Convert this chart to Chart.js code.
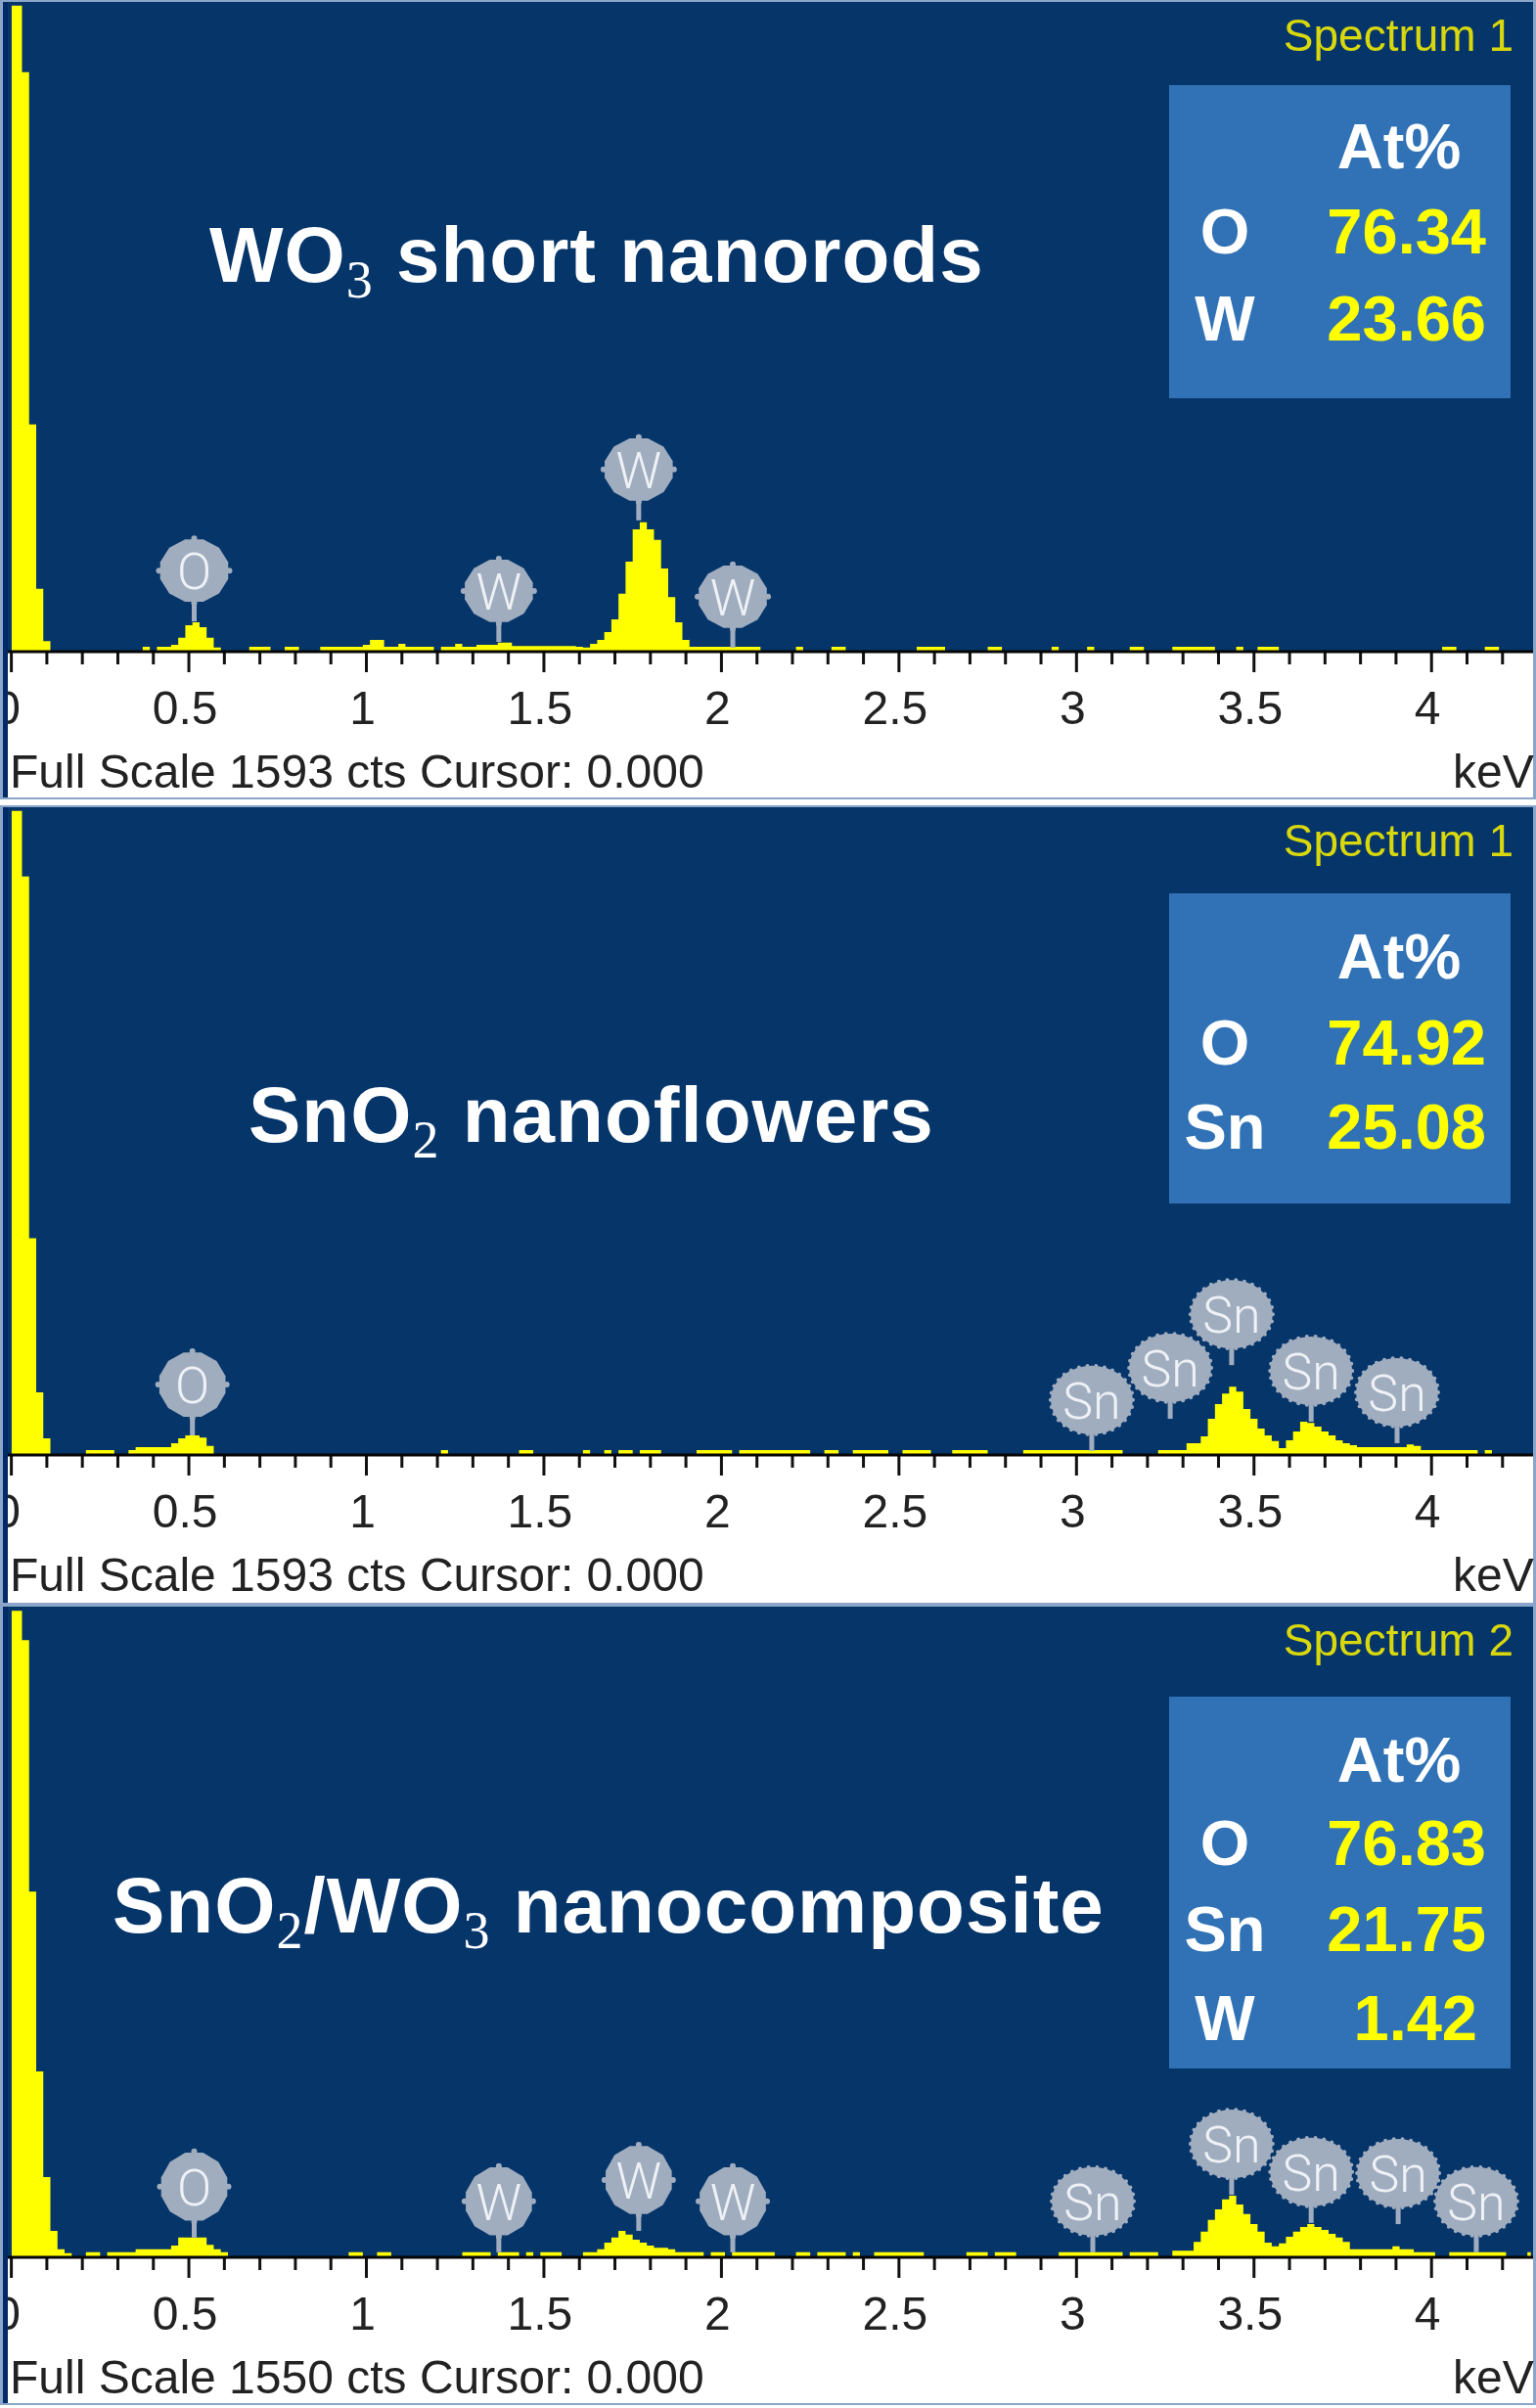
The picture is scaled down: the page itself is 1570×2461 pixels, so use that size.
<!DOCTYPE html>
<html>
<head>
<meta charset="utf-8">
<title>EDS spectra</title>
<script src="https://cdn.jsdelivr.net/npm/chart.js@4"></script>
<style>
    html, body { margin: 0; padding: 0; background: #ffffff; }
    #page { position: relative; width: 1570px; height: 2461px; overflow: hidden; }
    canvas { position: absolute; left: 0; }
</style>
</head>
<body>
<div id="page">
    <canvas id="wo3Chart" width="1570" height="818" style="top:0px"></canvas>
    <canvas id="sno2Chart" width="1570" height="818" style="top:822px"></canvas>
    <canvas id="compositeChart" width="1570" height="818" style="top:1640px"></canvas>
</div>

<script>
// channel energies in keV
const channelKev = [
    0,0.02,0.04,0.06,0.08,0.1,0.12,0.14,0.16,0.18,
    0.2,0.22,0.24,0.26,0.28,0.3,0.32,0.34,0.36,0.38,
    0.4,0.42,0.44,0.46,0.48,0.5,0.52,0.54,0.56,0.58,
    0.6,0.62,0.64,0.66,0.68,0.7,0.72,0.74,0.76,0.78,
    0.8,0.82,0.84,0.86,0.88,0.9,0.92,0.94,0.96,0.98,
    1,1.02,1.04,1.06,1.08,1.1,1.12,1.14,1.16,1.18,
    1.2,1.22,1.24,1.26,1.28,1.3,1.32,1.34,1.36,1.38,
    1.4,1.42,1.44,1.46,1.48,1.5,1.52,1.54,1.56,1.58,
    1.6,1.62,1.64,1.66,1.68,1.7,1.72,1.74,1.76,1.78,
    1.8,1.82,1.84,1.86,1.88,1.9,1.92,1.94,1.96,1.98,
    2,2.02,2.04,2.06,2.08,2.1,2.12,2.14,2.16,2.18,
    2.2,2.22,2.24,2.26,2.28,2.3,2.32,2.34,2.36,2.38,
    2.4,2.42,2.44,2.46,2.48,2.5,2.52,2.54,2.56,2.58,
    2.6,2.62,2.64,2.66,2.68,2.7,2.72,2.74,2.76,2.78,
    2.8,2.82,2.84,2.86,2.88,2.9,2.92,2.94,2.96,2.98,
    3,3.02,3.04,3.06,3.08,3.1,3.12,3.14,3.16,3.18,
    3.2,3.22,3.24,3.26,3.28,3.3,3.32,3.34,3.36,3.38,
    3.4,3.42,3.44,3.46,3.48,3.5,3.52,3.54,3.56,3.58,
    3.6,3.62,3.64,3.66,3.68,3.7,3.72,3.74,3.76,3.78,
    3.8,3.82,3.84,3.86,3.88,3.9,3.92,3.94,3.96,3.98,
    4,4.02,4.04,4.06,4.08,4.1,4.12,4.14,4.16,4.18,
    4.2,4.22,4.24,4.26,4.28
];

const majorTicks = [0, 0.5, 1, 1.5, 2, 2.5, 3, 3.5, 4];

// WO3 short nanorods
const wo3Counts = [
    1584,1584,1421,557,154,26,0,0,0,0,
    0,0,0,0,0,0,0,0,0,12,
    0,12,12,17,34,65,72,60,34,10,
    0,0,0,0,12,12,12,0,0,12,
    12,0,0,0,12,12,12,12,12,12,
    17,29,29,12,12,19,12,12,12,12,
    0,12,12,19,12,12,17,17,17,22,
    22,14,14,14,14,14,14,14,14,14,
    12,10,19,29,48,79,142,221,300,317,
    300,274,204,134,72,29,12,12,12,12,
    12,12,12,12,12,12,0,0,0,0,
    0,12,0,0,0,0,12,12,0,0,
    0,0,0,0,0,0,0,0,12,12,
    12,12,0,0,0,0,0,0,12,12,
    0,0,0,0,0,0,0,12,0,0,
    0,0,12,0,0,0,0,0,12,12,
    0,0,0,0,12,12,12,12,12,12,
    0,0,0,12,0,0,12,12,12,0,
    0,0,0,0,0,0,0,0,0,0,
    0,0,0,0,0,0,0,0,0,0,
    0,0,12,12,0,0,0,0,12,12,
    0,0,0,0,0
];
const wo3PeakLabels = ['O', 'W', 'W', 'W'];
const wo3PeakKev = [0.515, 1.373, 1.767, 2.032];
const wo3PeakCts = [74, 24, 322, 10];
const wo3Elements = ['O', 'W'];
const wo3Percent = ['76.34', '23.66'];

// SnO2 nanoflowers
const sno2Counts = [
    1584,1584,1423,533,154,41,0,0,0,0,
    0,12,12,12,12,0,0,12,19,19,
    19,19,19,29,41,48,48,43,22,0,
    0,0,0,0,0,0,0,0,0,0,
    0,0,0,0,0,0,0,0,0,0,
    0,0,0,0,0,0,0,0,0,0,
    0,12,0,0,0,0,0,0,0,0,
    0,0,12,12,0,0,0,0,0,0,
    0,12,0,0,12,0,12,12,0,12,
    12,12,0,0,0,0,0,12,12,12,
    12,12,0,12,12,12,12,12,12,12,
    12,12,12,0,0,12,12,0,0,12,
    12,12,12,12,0,0,12,12,12,12,
    0,0,0,12,12,12,12,12,0,0,
    0,0,0,12,12,12,12,12,12,12,
    12,12,12,12,12,12,12,0,0,0,
    0,0,12,12,12,12,29,29,46,89,
    125,151,168,156,113,89,65,48,34,17,
    36,58,82,79,70,58,48,36,29,24,
    19,19,19,19,19,19,19,26,22,12,
    12,12,12,12,12,12,12,0,12,0,
    0,0,0,0,0
];
const sno2PeakLabels = ['O', 'Sn', 'Sn', 'Sn', 'Sn', 'Sn'];
const sno2PeakKev = [0.51, 3.043, 3.264, 3.437, 3.661, 3.903];
const sno2PeakCts = [48, 10, 89, 221, 82, 29];
const sno2Elements = ['O', 'Sn'];
const sno2Percent = ['74.92', '25.08'];

// SnO2/WO3 nanocomposite
const compositeCounts = [
    1540,1540,1470,871,443,191,63,19,10,0,
    0,12,12,0,12,12,12,12,19,19,
    19,19,19,28,47,47,47,47,30,19,
    12,0,0,0,0,0,0,0,0,0,
    0,0,0,0,0,0,0,0,12,12,
    0,0,12,12,0,0,0,0,0,0,
    0,0,0,0,12,12,12,12,0,12,
    12,12,0,12,0,12,12,12,0,0,
    0,12,12,19,35,47,63,54,42,35,
    28,23,23,19,12,12,12,12,0,12,
    12,0,12,12,12,12,12,12,0,0,
    0,12,12,0,12,12,12,12,0,12,
    0,0,12,12,12,12,12,12,12,0,
    0,0,0,0,0,12,12,12,0,12,
    12,12,0,0,0,0,0,0,12,12,
    12,12,12,12,12,12,12,0,12,12,
    12,12,0,0,16,16,16,37,61,89,
    114,138,147,126,103,79,61,35,26,33,
    49,61,72,79,72,65,56,47,37,19,
    19,19,19,19,19,26,19,19,12,12,
    12,0,0,12,12,12,12,12,12,12,
    12,0,0,0,12
];
const compositePeakLabels = ['O', 'W', 'W', 'W', 'Sn', 'Sn', 'Sn', 'Sn', 'Sn'];
const compositePeakKev = [0.515, 1.373, 1.767, 2.032, 3.046, 3.437, 3.661, 3.906, 4.126];
const compositePeakCts = [47, 12, 63, 12, 12, 149, 82, 79, 12];
const compositeElements = ['O', 'Sn', 'W'];
const compositePercent = ['76.83', '21.75', '1.42'];

const NAVY = '#06356a';
const STRIP = '#012a66';
const EDGE = '#8ba6c9';
const BUBBLE = '#a0adbf';

// draws title pieces, every second piece is a subscript
function drawTitle(ctx, pieces, x, y) {
    ctx.textAlign = 'left';
    ctx.fillStyle = '#ffffff';
    ctx.letterSpacing = '1px';
    pieces.forEach((text, i) => {
        if (i % 2 === 1) {
            ctx.font = '54px "Liberation Serif"';
            ctx.fillText(text, x, y + 16);
        } else {
            ctx.font = 'bold 80px "Liberation Sans"';
            ctx.fillText(text, x, y);
        }
        x += ctx.measureText(text).width;
    });
    ctx.letterSpacing = '0px';
}

function drawBubble(ctx, x, y, label, rx, ry) {
    const stemBottom = y;
    const cy = y - 52;
    ctx.fillStyle = BUBBLE;
    ctx.fillRect(x - 2.5, cy, 5, stemBottom - cy);
    ctx.beginPath();
    if (label === 'Sn') {
        // round marker with a bumpy edge
        ctx.ellipse(x, cy, 42, 35, 0, 0, Math.PI * 2);
        ctx.fill();
        for (let a = 0; a < 360; a += 12) {
            const r = a * Math.PI / 180;
            ctx.beginPath();
            ctx.arc(x + 42 * Math.cos(r), cy + 35 * Math.sin(r), 2, 0, Math.PI * 2);
            ctx.fill();
        }
    } else {
        // 12 sided marker with small knobs
        for (let a = 15; a < 360; a += 30) {
            const r = a * Math.PI / 180;
            ctx.lineTo(x + rx * Math.cos(r), cy + ry * Math.sin(r));
        }
        ctx.closePath();
        ctx.fill();
        [0, 90, 180, 270].forEach(a => {
            const r = a * Math.PI / 180;
            ctx.beginPath();
            ctx.arc(x + rx * Math.cos(r), cy + ry * Math.sin(r), 3, 0, Math.PI * 2);
            ctx.fill();
        });
    }
    ctx.fillStyle = '#eef1f5';
    ctx.textAlign = 'center';
    ctx.font = '300 52px Roboto';
    ctx.fillText(label, x, cy + 19);
}

function makeChart(id, cfg) {
    const canvas = document.getElementById(id);
    const peakRadius = cfg.peakRadius;

    const panelPlugin = {
        id: 'panel',
        beforeDraw(chart) {
            const ctx = chart.ctx;
            const area = chart.chartArea;
            ctx.save();
            ctx.fillStyle = NAVY;
            ctx.fillRect(2, cfg.plotTop, 1566, area.bottom - cfg.plotTop);
            ctx.restore();
        },
        afterDraw(chart) {
            const ctx = chart.ctx;
            const xs = chart.scales.x;
            const ys = chart.scales.y;
            const area = chart.chartArea;
            ctx.save();

            // tick marks
            ctx.fillStyle = '#111111';
            xs.ticks.forEach(t => {
                const v = Number(t.value.toFixed(1));
                const len = majorTicks.includes(v) ? 21 : 13;
                ctx.fillRect(xs.getPixelForValue(v) - 1.5, area.bottom, 3, len);
            });
            // axis line
            ctx.fillStyle = '#050505';
            ctx.fillRect(8, area.bottom - 1.5, 1560, 3);

            // left and right frame
            ctx.fillStyle = STRIP;
            ctx.fillRect(3, cfg.plotTop, 5, cfg.bottom - cfg.plotTop);
            ctx.fillStyle = EDGE;
            ctx.fillRect(0, cfg.plotTop, 3, cfg.bottom - cfg.plotTop + 2);
            ctx.fillRect(1567, cfg.plotTop, 3, cfg.bottom - cfg.plotTop + 2);
            ctx.fillRect(0, cfg.bottom, 1570, 2);
            ctx.fillRect(0, cfg.plotTop - 2, 1570, 2);

            // peak markers
            cfg.peakKev.forEach((kev, i) => {
                drawBubble(ctx, xs.getPixelForValue(kev), ys.getPixelForValue(cfg.peakCts[i]),
                    cfg.peakLabels[i], peakRadius[0], peakRadius[1]);
            });

            // spectrum name
            ctx.textAlign = 'right';
            ctx.fillStyle = '#d8d80c';
            ctx.font = '46px "Liberation Sans"';
            ctx.fillText(cfg.spectrum, 1547, cfg.plotTop + 50);

            // At% box
            ctx.fillStyle = '#3072b5';
            ctx.fillRect(1195, cfg.boxTop, 349, cfg.boxBottom - cfg.boxTop);
            ctx.font = 'bold 65px "Liberation Sans"';
            ctx.textAlign = 'center';
            ctx.fillStyle = '#ffffff';
            ctx.fillText('At%', 1430, cfg.atY);
            cfg.elements.forEach((el, i) => {
                const y = cfg.rowY[i];
                ctx.textAlign = 'center';
                ctx.fillStyle = '#ffffff';
                ctx.fillText(el, 1252, y);
                ctx.textAlign = 'right';
                ctx.fillStyle = '#ffff00';
                ctx.fillText(cfg.percent[i], el === 'W' && cfg.percent[i] === '1.42' ? 1510 : 1519, y);
            });

            drawTitle(ctx, cfg.title, cfg.titleX, cfg.titleY);

            // footer
            ctx.fillStyle = '#222222';
            ctx.textAlign = 'left';
            ctx.font = '48px "Liberation Sans"';
            ctx.fillText(cfg.footer, 10, area.bottom + 139);
            ctx.fillText('keV', 1485, area.bottom + 139);
            ctx.restore();
        }
    };

    return new Chart(canvas, {
        type: 'line',
        data: {
            datasets: [{
                label: cfg.title.join(''),
                data: channelKev.map((kev, i) => ({ x: kev, y: cfg.counts[i] })),
                stepped: 'middle',
                fill: 'origin',
                backgroundColor: '#ffff00',
                borderWidth: 0,
                pointRadius: 0
            }]
        },
        options: {
            responsive: false,
            animation: false,
            events: [],
            layout: {
                autoPadding: false,
                padding: { left: 11.6, right: 3, top: cfg.plotTop, bottom: 0 }
            },
            plugins: { legend: { display: false }, tooltip: { enabled: false } },
            scales: {
                x: {
                    type: 'linear',
                    min: 0,
                    max: 4.286,
                    grid: { display: false, drawTicks: false },
                    border: { display: false },
                    afterFit(scale) {
                        scale.height = canvas.height - cfg.base;
                        // keep the half width of the first label out of the plot margin
                        scale.paddingLeft = 0;
                        scale.paddingRight = 0;
                    },
                    ticks: {
                        stepSize: 0.1,
                        includeBounds: false,
                        autoSkip: false,
                        maxRotation: 0,
                        labelOffset: -4,
                        padding: 32,
                        color: '#222222',
                        font: { family: '"Liberation Sans"', size: 48 },
                        callback(value) {
                            const v = Number(Number(value).toFixed(1));
                            return majorTicks.includes(v) ? String(v) : '';
                        }
                    }
                },
                y: { display: false, min: 0, max: cfg.fullScale }
            }
        },
        plugins: [panelPlugin]
    });
}

makeChart('wo3Chart', {
    counts: wo3Counts, peakLabels: wo3PeakLabels, peakKev: wo3PeakKev, peakCts: wo3PeakCts,
    elements: wo3Elements, percent: wo3Percent,
    fullScale: 1593, spectrum: 'Spectrum 1', footer: 'Full Scale 1593 cts Cursor: 0.000',
    title: ['WO', '3', ' short nanorods'], titleX: 214, titleY: 288,
    plotTop: 2, base: 666, bottom: 815, peakRadius: [36, 33],
    boxTop: 87, boxBottom: 407, atY: 172, rowY: [259, 348]
});

makeChart('sno2Chart', {
    counts: sno2Counts, peakLabels: sno2PeakLabels, peakKev: sno2PeakKev, peakCts: sno2PeakCts,
    elements: sno2Elements, percent: sno2Percent,
    fullScale: 1593, spectrum: 'Spectrum 1', footer: 'Full Scale 1593 cts Cursor: 0.000',
    title: ['SnO', '2', ' nanoflowers'], titleX: 254, titleY: 345,
    plotTop: 3, base: 665, bottom: 816, peakRadius: [35, 34],
    boxTop: 91, boxBottom: 408, atY: 178, rowY: [266, 352]
});

makeChart('compositeChart', {
    counts: compositeCounts, peakLabels: compositePeakLabels, peakKev: compositePeakKev, peakCts: compositePeakCts,
    elements: compositeElements, percent: compositePercent,
    fullScale: 1550, spectrum: 'Spectrum 2', footer: 'Full Scale 1550 cts Cursor: 0.000',
    title: ['SnO', '2', '/WO', '3', ' nanocomposite'], titleX: 115, titleY: 335,
    plotTop: 2, base: 667, bottom: 816, peakRadius: [35, 36],
    boxTop: 94, boxBottom: 474, atY: 181, rowY: [266, 354, 445]
});
</script>
</body>
</html>
